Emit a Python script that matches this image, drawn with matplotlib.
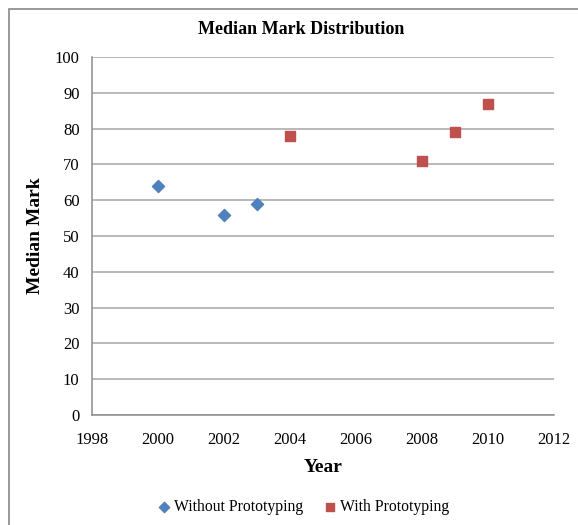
import matplotlib.pyplot as plt
from matplotlib.patches import Rectangle

plt.rcParams['font.family'] = ['Liberation Serif', 'DejaVu Serif']

# median marks per year
years_without = [2000, 2002, 2003]
marks_without = [64, 56, 59]
years_with = [2004, 2008, 2009, 2010]
marks_with = [78, 71, 79, 87]

x_ticks = list(range(1998, 2013, 2))
y_ticks = list(range(0, 101, 10))

W, H = 578, 525
fig = plt.figure(figsize=(W / 100, H / 100), dpi=100)
# chart frame, only left and top edges fall inside the image
fig.patches.append(Rectangle((9 / W, -0.1), 1.2, 1 - 9 / H + 0.1,
                             transform=fig.transFigure, fill=False,
                             edgecolor='#888888', linewidth=1.2))

left, right, top, bottom = 92, 554, 57, 415
ax = fig.add_axes([left / W, 1 - bottom / H, (right - left) / W, (bottom - top) / H])
ax.scatter(years_without, marks_without, marker='D', s=38, color='#4F81BD',
           label='Without Prototyping', zorder=3)
ax.scatter(years_with, marks_with, marker='s', s=58, color='#C0504D',
           label='With Prototyping', zorder=3)

ax.set_xlim(1998, 2012)
ax.set_ylim(0, 100)
ax.set_xticks(x_ticks)
ax.set_yticks(y_ticks)
ax.tick_params(length=0, labelsize=12)
ax.tick_params(axis='x', pad=12)
ax.tick_params(axis='y', pad=9)
ax.grid(axis='y', color='#A6A6A6', linewidth=1.1)
ax.set_axisbelow(True)
for side in ['top', 'right']:
    ax.spines[side].set_visible(False)
for side in ['left', 'bottom']:
    ax.spines[side].set_color('#8C8C8C')
    ax.spines[side].set_linewidth(1.1)

fig.text(323 / W, 1 - 467 / H, 'Year', ha='center', va='center',
         fontsize=14, fontweight='bold')
fig.text(35 / W, 1 - 236 / H, 'Median Mark', ha='center', va='center',
         rotation=90, fontsize=14, fontweight='bold')
fig.text(301 / W, 1 - 30 / H, 'Median Mark Distribution', ha='center',
         va='center', fontsize=13, fontweight='bold')

fig.legend(loc='center', bbox_to_anchor=(304 / W, 1 - 507 / H), ncol=2,
           frameon=False, fontsize=11.3, handlelength=0.7, handletextpad=0.25,
           columnspacing=1.4, scatterpoints=1, markerscale=0.85)

fig.savefig('out.png', dpi=100)
